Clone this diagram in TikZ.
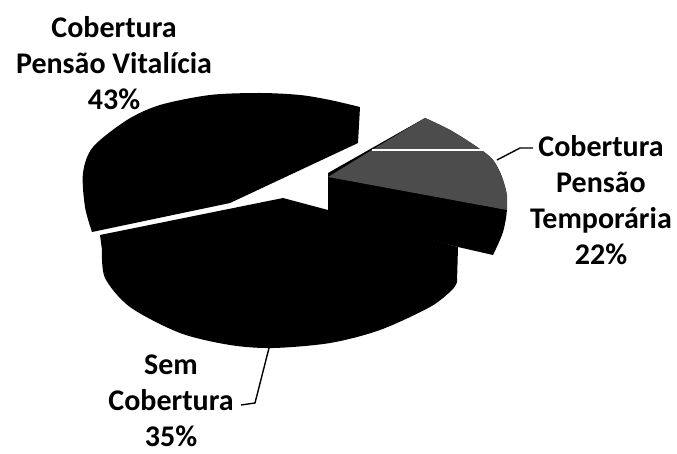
\documentclass[tikz,border=0pt]{standalone}
\usepackage{fontspec}
\setmainfont{Carlito}
\usetikzlibrary{positioning}

\begin{document}
\begin{tikzpicture}[x=1pt, y=-1pt,
    pieslice/.style={fill=black},
    topface/.style={fill=black!70},
    lbl/.style={align=center, inner sep=0pt, anchor=north,
      font=\fontsize{30}{36}\selectfont\bfseries},
    leader/.style={draw=black, line width=1.4pt}
  ]
  \useasboundingbox (0,0) rectangle (677,454);

  % Cobertura Pensao Vitalicia (pulled out to the upper left)
  \fill[pieslice] (92,232) -- plot[smooth] coordinates {(92,232) (85,207) (83,173)
      (93,147) (127,120) (160,105) (210,95) (260,93) (300,95) (330,100) (360,107)}
    -- (358,143) -- (230,203) -- cycle;

  % Sem Cobertura
  \fill[pieslice] (100,235) -- (283,198) -- (328,210) -- (458,247)
    -- plot[smooth] coordinates {(457,282) (452,290) (430,307) (380,330) (330,343)
      (273,348) (230,345) (180,333) (130,307) (105,278) (102,250)}
    -- cycle;

  % Cobertura Pensao Temporaria: sides, then the grey top
  \fill[pieslice] (328,173) -- plot[smooth] coordinates {(425,118) (450,130) (477,147)
      (493,160) (503,180) (507,207) (503,232) (493,255)}
    -- (458,247) -- (328,212) -- cycle;
  \fill[topface] (328,177) -- (380,145) -- plot[smooth] coordinates {(425,118) (450,130)
      (477,147) (493,160) (503,180) (507,195) (507,210)}
    -- cycle;
  \draw[white, line width=2.5pt] (372,150) -- (485,150);

  % labels
  \node[lbl] (l_vit) at (114,16) {Cobertura\\Pensão Vitalícia\\43\%};
  \node[lbl] (l_tmp) at (601,135) {Cobertura\\Pensão\\Temporária\\22\%};
  \node[lbl] (l_sem) at (171,355) {Sem\\Cobertura\\35\%};

  % leader lines
  \coordinate (p_tmp) at (497,160);
  \coordinate (k_tmp) at (520,148);
  \coordinate (e_tmp) at (533,148);
  \coordinate (p_sem) at (269,348);
  \coordinate (k_sem) at (255,403);
  \coordinate (e_sem) at (241,405);
  \draw[leader] (p_tmp) -- (k_tmp) -- (e_tmp);
  \draw[leader] (p_sem) -- (k_sem) -- (e_sem);
\end{tikzpicture}
\end{document}
